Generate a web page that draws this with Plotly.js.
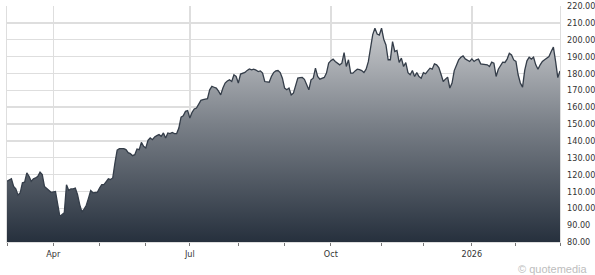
<!DOCTYPE html>
<html>
<head>
<meta charset="utf-8">
<script src="https://cdn.plot.ly/plotly-3.0.1.min.js"></script>
<style>
html,body{margin:0;padding:0;background:#fff;}
#chart{width:595px;height:275px;}
</style>
</head>
<body>
<div id="chart"></div>
<script>
const dates = [
"2025-03-03","2025-03-05","2025-03-06","2025-03-07","2025-03-10","2025-03-11","2025-03-12","2025-03-13","2025-03-14","2025-03-17",
"2025-03-18","2025-03-19","2025-03-20","2025-03-21","2025-03-24","2025-03-25","2025-03-26","2025-03-28","2025-03-31","2025-04-02",
"2025-04-03","2025-04-04","2025-04-07","2025-04-08","2025-04-09","2025-04-10","2025-04-11","2025-04-14","2025-04-15","2025-04-16",
"2025-04-17","2025-04-21","2025-04-22","2025-04-23","2025-04-24","2025-04-25","2025-04-28","2025-04-30","2025-05-01","2025-05-02",
"2025-05-05","2025-05-06","2025-05-07","2025-05-08","2025-05-09","2025-05-12","2025-05-13","2025-05-14","2025-05-16","2025-05-19",
"2025-05-20","2025-05-21","2025-05-22","2025-05-23","2025-05-27","2025-05-28","2025-05-29","2025-05-30","2025-06-02","2025-06-03",
"2025-06-04","2025-06-05","2025-06-06","2025-06-09","2025-06-10","2025-06-11","2025-06-12","2025-06-13","2025-06-16","2025-06-17",
"2025-06-18","2025-06-20","2025-06-23","2025-06-24","2025-06-25","2025-06-26","2025-06-27","2025-06-30","2025-07-01","2025-07-02",
"2025-07-03","2025-07-07","2025-07-08","2025-07-09","2025-07-10","2025-07-11","2025-07-14","2025-07-15","2025-07-16","2025-07-17",
"2025-07-18","2025-07-21","2025-07-22","2025-07-23","2025-07-24","2025-07-25","2025-07-28","2025-07-29","2025-07-30","2025-07-31",
"2025-08-01","2025-08-04","2025-08-05","2025-08-06","2025-08-07","2025-08-08","2025-08-11","2025-08-12","2025-08-13","2025-08-14",
"2025-08-15","2025-08-18","2025-08-19","2025-08-20","2025-08-21","2025-08-22","2025-08-25","2025-08-26","2025-08-27","2025-08-28",
"2025-08-29","2025-09-02","2025-09-03","2025-09-04","2025-09-05","2025-09-08","2025-09-09","2025-09-10","2025-09-11","2025-09-12",
"2025-09-15","2025-09-16","2025-09-17","2025-09-18","2025-09-19","2025-09-22","2025-09-23","2025-09-24","2025-09-25","2025-09-26",
"2025-09-29","2025-09-30","2025-10-01","2025-10-02","2025-10-03","2025-10-06","2025-10-07","2025-10-08","2025-10-09","2025-10-10",
"2025-10-13","2025-10-14","2025-10-15","2025-10-16","2025-10-17","2025-10-20","2025-10-21","2025-10-22","2025-10-23","2025-10-24",
"2025-10-27","2025-10-28","2025-10-29","2025-10-30","2025-10-31","2025-11-03","2025-11-04","2025-11-05","2025-11-06","2025-11-07",
"2025-11-10","2025-11-11","2025-11-12","2025-11-13","2025-11-14","2025-11-17","2025-11-18","2025-11-19","2025-11-20","2025-11-21",
"2025-11-24","2025-11-25","2025-11-26","2025-11-28","2025-12-01","2025-12-02","2025-12-03","2025-12-04","2025-12-05","2025-12-08",
"2025-12-09","2025-12-10","2025-12-11","2025-12-12","2025-12-15","2025-12-16","2025-12-17","2025-12-18","2025-12-19","2025-12-22",
"2025-12-23","2025-12-24","2025-12-26","2025-12-29","2025-12-30","2025-12-31","2026-01-02","2026-01-05","2026-01-06","2026-01-07",
"2026-01-08","2026-01-09","2026-01-12","2026-01-13","2026-01-14","2026-01-15","2026-01-16","2026-01-20","2026-01-21","2026-01-22",
"2026-01-23","2026-01-26","2026-01-27","2026-01-28","2026-01-29","2026-01-30","2026-02-02","2026-02-03","2026-02-04","2026-02-05",
"2026-02-06","2026-02-09","2026-02-10","2026-02-11","2026-02-12","2026-02-13","2026-02-17","2026-02-18","2026-02-19","2026-02-20",
"2026-02-23","2026-02-24","2026-02-25","2026-02-26","2026-02-27","2026-03-02","2026-03-03"
];
const closes = [
116,117.5,113,111.5,107.8,109.2,115.1,115.5,121,119,
116,117.5,118,119,121.4,120,113,110.7,109.5,110,
103,95,96.3,97.3,114,110.7,111.5,111.5,112,108.2,
102.2,97.8,99.5,101.8,106,110.5,109.2,109.5,112,114,
114,116,117.5,117,118,127,134.5,135.4,135.4,134.8,
133,132.4,131.2,131.8,135.2,134.8,139.1,136.8,135.8,140.3,
141.7,140.7,142.3,143.1,143.7,142.7,144.7,141.7,144.7,144.3,
145,144.3,144.3,147.6,154.1,154.9,157.5,157.9,153.5,156.9,
158.9,159.5,162,164,164.4,164.8,165,170.3,172.3,171.8,
171.3,169.5,167.3,171.3,174.3,175.5,176.2,175.2,179.2,178.2,
174.3,179.6,180,180.6,181.8,182.7,182.1,182.5,182,181.1,
181.5,180.2,175.2,175,174.8,178.2,180.5,181.5,181.7,180.5,
177.2,171.3,170.3,171.3,167.3,168.3,173,177.2,177.5,177.6,
176.5,173.5,170.3,176.2,177.2,183.1,178.2,176.6,177.2,177.6,
180.2,186.1,187.6,188.5,187.1,186,185.1,186.1,192.4,184.1,
188.1,180.2,180.2,181.5,182.5,182.3,181.7,180.5,182.5,187,
194,203,206.8,203.4,202.8,206.8,200.3,196.9,188.1,188.1,
198.9,193,193.6,186.5,189.1,184.1,186.4,180.5,179.2,181.7,
178.2,180.5,178.2,177.2,180.5,179.8,181.5,183.1,182.5,185.7,
185.1,183.5,179.5,175.2,176.6,177.8,171.3,174.3,181.7,184.5,
188,189.6,190.4,188.6,187.8,187.1,188.6,187.1,188.1,188.5,
185.7,185.6,185.3,185.1,184.1,186.7,186.1,178.2,182.5,185,
186.7,186.5,188.5,192,191,188,187.1,179.2,174.3,171.9,
182,187.5,189.6,188.5,189.6,185.1,182.5,185.1,187.1,188.1,
189,190,193,195.6,187.1,177.5,181.5
];
const holidays = ["2025-04-18","2025-05-26","2025-06-19","2025-07-04","2025-09-01","2025-11-27","2025-12-25","2026-01-01","2026-01-19","2026-02-16"];
const majorTickVals = ["2025-04-01","2025-07-01","2025-10-01","2026-01-02"];
const majorTickText = ["Apr","Jul","Oct","2026"];
const minorTickVals = ["2025-03-03","2025-05-01","2025-06-02","2025-08-01","2025-09-02","2025-11-03","2025-12-01","2026-02-02","2026-03-03"];
const yTickVals = [80,90,100,110,120,130,140,150,160,170,180,190,200,210,220];

const font = {family:"DejaVu Sans Condensed, DejaVu Sans, sans-serif", size:9, color:"#333"};

const trace = {
  x: dates, y: closes, type:"scatter", mode:"lines",
  line:{color:"#343d49", width:1.3},
  fill:"tozeroy",
  fillgradient:{type:"vertical", start:80, stop:220,
    colorscale:[[0,"#26303d"],[0.5,"#7a8088"],[1,"#dadbdd"]]},
  hoverinfo:"skip"
};

const layout = {
  width:595, height:275, autosize:false,
  margin:{l:7, r:35, t:6, b:33, pad:0},
  paper_bgcolor:"#fff", plot_bgcolor:"#fff",
  showlegend:false,
  font: font,
  xaxis:{
    type:"date",
    range:["2025-03-03","2026-03-03"],
    rangebreaks:[{bounds:["sat","mon"]},{values:holidays}],
    tickmode:"array", tickvals:majorTickVals, ticktext:majorTickText,
    ticks:"outside", ticklen:3, tickcolor:"#777", tickwidth:1,
    showgrid:true, gridcolor:"#dedede", gridwidth:1.3,
    minor:{tickmode:"array", tickvals:minorTickVals, ticks:"outside", ticklen:3, tickcolor:"#777", showgrid:false},
    showline:true, linecolor:"#dedede", linewidth:1,
    layer:"below traces",
    zeroline:false, tickfont:font, fixedrange:true
  },
  yaxis:{
    range:[80,220], side:"right",
    tickmode:"array", tickvals:yTickVals, tickformat:".2f",
    ticks:"", ticklabelstandoff:4,
    showgrid:true, gridcolor:"#dedede", gridwidth:1.3,
    showline:true, mirror:true, linecolor:"#dedede", linewidth:1.3,
    layer:"below traces",
    zeroline:false, tickfont:font, fixedrange:true
  },
  annotations:[{
    text:"© quotemedia", xref:"paper", yref:"paper",
    x:1.055, y:-0.113, xanchor:"right", yanchor:"middle", showarrow:false,
    font:{family:"Liberation Sans, Arial, sans-serif", size:11, color:"#bdbdbd"}
  }]
};

Plotly.newPlot("chart", [trace], layout, {staticPlot:true, displayModeBar:false});
</script>
</body>
</html>
